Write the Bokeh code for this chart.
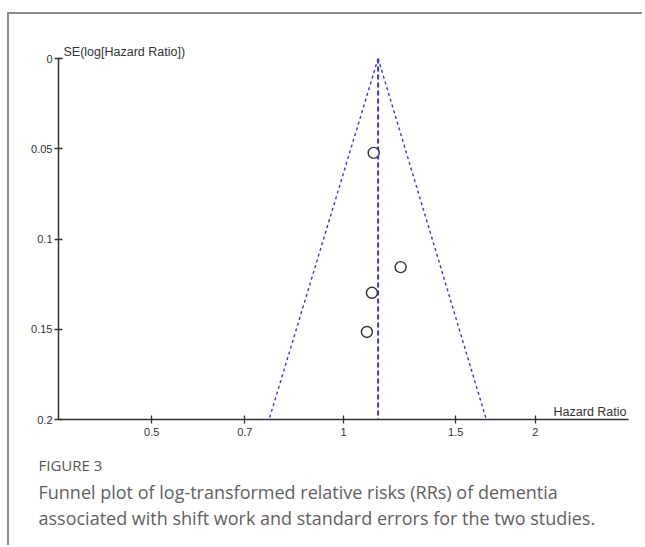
from bokeh.plotting import figure
from bokeh.models import Range1d, FixedTicker, Label, Title
from bokeh.embed import file_html
from bokeh.resources import INLINE

# ---- data ----
study_hr = [1.115, 1.229, 1.108, 1.088]
study_se = [0.0523, 0.1156, 0.1298, 0.1515]

pooled_hr = 1.133
funnel_left_hr = [1.133, 0.764]
funnel_right_hr = [1.133, 1.675]
funnel_se = [0.0, 0.2]

x_ticks = [0.5, 0.7, 1, 1.5, 2]
x_tick_labels = ["0.5", "0.7", "1", "1.5", "2"]
y_ticks = [0, 0.05, 0.1, 0.15, 0.2]
y_tick_labels = ["0", "0.05", "0.1", "0.15", "0.2"]

x_min, x_max = 0.357, 2.8
se_max = 0.2

y_title = "SE(log[Hazard Ratio])"
x_title = "Hazard Ratio"
caption_title = "FIGURE 3"
caption_lines = [
    "Funnel plot of log-transformed relative risks (RRs) of dementia",
    "associated with shift work and standard errors for the two studies.",
]
caption_standoffs = [-22, 22]

blue = "#3434e0"
ink = "#333333"

p = figure(
    x_axis_type="log",
    x_range=Range1d(x_min, x_max),
    y_range=Range1d(se_max, 0),
    frame_width=570, frame_height=361,
    min_border_left=49, min_border_top=44, min_border_right=14, min_border_bottom=126,
    output_backend="svg", toolbar_location=None,
    background_fill_color="white", border_fill_color="white",
)
p.styles = {"border-left": "2px solid #8c8c8c", "border-top": "2px solid #8c8c8c",
            "margin-top": "12px", "margin-left": "7px"}
p.grid.visible = False
p.outline_line_color = None

for ax in (p.xaxis[0], p.yaxis[0]):
    ax.axis_line_color = ink
    ax.axis_line_width = 1.5
    ax.major_tick_line_color = ink
    ax.major_tick_line_width = 1.3
    ax.major_tick_in = 4
    ax.major_tick_out = 4
    ax.minor_tick_line_color = None
    ax.major_label_text_font = "Liberation Sans"
    ax.major_label_text_font_size = "11px"
    ax.major_label_text_color = ink

p.xaxis.ticker = FixedTicker(ticks=x_ticks)
p.xaxis.major_label_overrides = {t: l for t, l in zip(x_ticks, x_tick_labels)}
p.xaxis.major_label_standoff = 4
p.yaxis.ticker = FixedTicker(ticks=y_ticks)
p.yaxis.major_label_overrides = {t: l for t, l in zip(y_ticks, y_tick_labels)}
p.yaxis.major_label_standoff = 2

# funnel
p.line(funnel_left_hr, funnel_se, line_color=blue, line_width=1.4, line_dash="3 3")
p.line(funnel_right_hr, funnel_se, line_color=blue, line_width=1.4, line_dash="3 3")
p.line([pooled_hr, pooled_hr], funnel_se, line_color=blue, line_width=2, line_dash="5 3")

# studies
p.scatter(study_hr, study_se, marker="circle", size=11, fill_color="white",
          line_color=ink, line_width=1.4)

p.add_layout(Title(text=y_title, align="left", offset=5, standoff=0,
                   text_font="Liberation Sans", text_font_size="12.5px",
                   text_font_style="normal", text_color=ink), "above")
p.add_layout(Label(x=x_max, y=se_max, x_offset=-2, y_offset=1, text=x_title,
                   text_align="right", text_font="Liberation Sans",
                   text_font_size="12.5px", text_color=ink, text_baseline="bottom"))

p.add_layout(Title(text=caption_title, align="left", offset=-20, standoff=28,
                   text_font="Open Sans", text_font_size="15px",
                   text_font_style="normal", text_color="#555555"), "below")
for line, so in zip(caption_lines, caption_standoffs):
    p.add_layout(Title(text=line, align="left", offset=-20, standoff=so,
                       text_font="Open Sans", text_font_size="18px",
                       text_font_style="normal", text_color="#5f5f5f"), "below")

open("out.html", "w").write(file_html(p, INLINE))
